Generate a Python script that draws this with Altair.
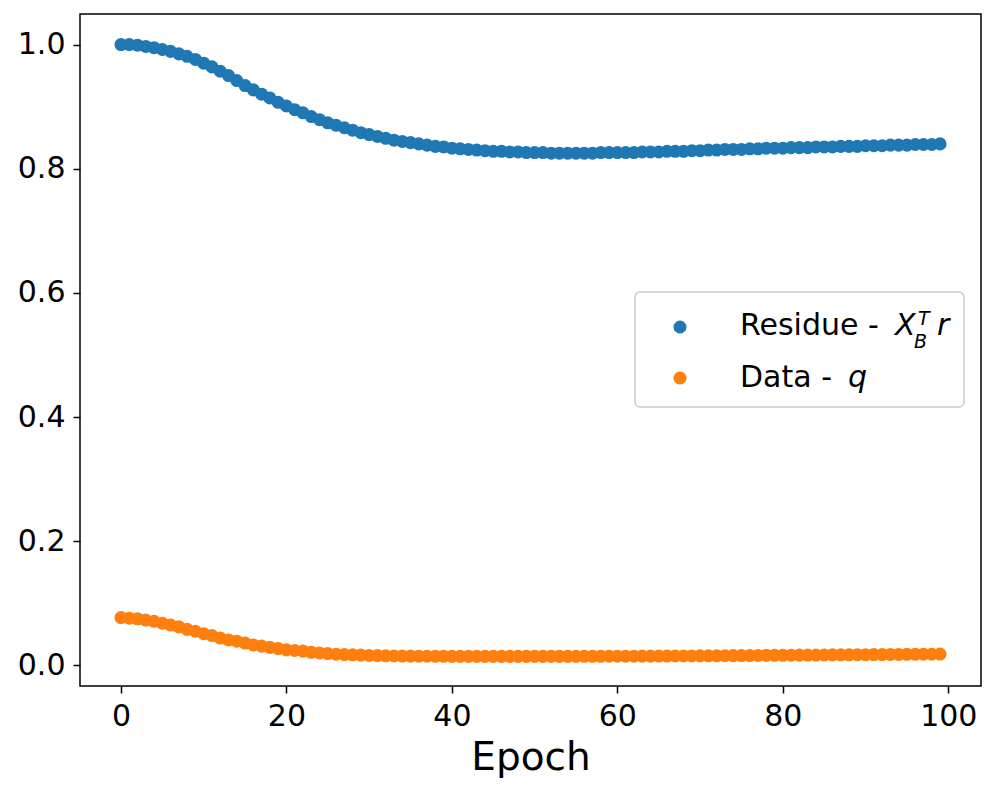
import altair as alt
import pandas as pd

epochs = list(range(100))

residue = [
    1.000, 1.000, 0.999, 0.997, 0.995, 0.992, 0.989, 0.985, 0.981, 0.976,
    0.970, 0.964, 0.957, 0.950, 0.942, 0.934, 0.927, 0.920, 0.914, 0.907,
    0.901, 0.895, 0.890, 0.884, 0.879, 0.874, 0.870, 0.866, 0.862, 0.858,
    0.855, 0.852, 0.849, 0.846, 0.844, 0.842, 0.840, 0.838, 0.836, 0.835,
    0.833, 0.832, 0.831, 0.830, 0.829, 0.828, 0.828, 0.827, 0.827, 0.826,
    0.826, 0.826, 0.825, 0.825, 0.825, 0.825, 0.825, 0.825, 0.826, 0.826,
    0.826, 0.826, 0.826, 0.827, 0.827, 0.827, 0.828, 0.828, 0.828, 0.829,
    0.829, 0.830, 0.830, 0.831, 0.831, 0.831, 0.832, 0.832, 0.833, 0.833,
    0.833, 0.834, 0.834, 0.834, 0.835, 0.835, 0.835, 0.836, 0.836, 0.836,
    0.837, 0.837, 0.837, 0.838, 0.838, 0.838, 0.839, 0.839, 0.839, 0.840,
]

data_q = [
    0.077, 0.076, 0.075, 0.073, 0.071, 0.068, 0.065, 0.062, 0.058, 0.055,
    0.051, 0.048, 0.044, 0.041, 0.039, 0.036, 0.033, 0.031, 0.029, 0.027,
    0.025, 0.024, 0.023, 0.021, 0.020, 0.019, 0.018, 0.0175, 0.017, 0.0165,
    0.016, 0.0157, 0.0154, 0.0152, 0.015, 0.0149, 0.0148, 0.0147, 0.0146, 0.0146,
    0.0145, 0.0145, 0.0145, 0.0145, 0.0145, 0.0145, 0.0145, 0.0145, 0.0145, 0.0145,
    0.0145, 0.0145, 0.0145, 0.0145, 0.0145, 0.0145, 0.0146, 0.0146, 0.0146, 0.0147,
    0.0147, 0.0148, 0.0148, 0.0149, 0.0149, 0.0150, 0.0150, 0.0151, 0.0152, 0.0152,
    0.0153, 0.0154, 0.0155, 0.0156, 0.0157, 0.0158, 0.0159, 0.0160, 0.0161, 0.0162,
    0.0163, 0.0164, 0.0165, 0.0166, 0.0167, 0.0168, 0.0169, 0.0170, 0.0171, 0.0172,
    0.0173, 0.0174, 0.0175, 0.0176, 0.0177, 0.0178, 0.0179, 0.0180, 0.0181, 0.0182,
]

series_names = ["Residue", "Data"]
series_colors = ["#1f77b4", "#ff7f0e"]
x_ticks = [0, 20, 40, 60, 80, 100]
y_ticks = [0.0, 0.2, 0.4, 0.6, 0.8, 1.0]

df = pd.DataFrame({
    "epoch": epochs * 2,
    "value": residue + data_q,
    "series": [series_names[0]] * len(epochs) + [series_names[1]] * len(epochs),
})

FONT = "DejaVu Sans"
W, H = 901, 672
DOT = 170

points = alt.Chart(df).mark_circle(size=DOT, opacity=1).encode(
    x=alt.X("epoch:Q",
            scale=alt.Scale(domain=[-4.95, 103.95], nice=False, zero=False),
            axis=alt.Axis(values=x_ticks, title="Epoch", format="d")),
    y=alt.Y("value:Q",
            scale=alt.Scale(domain=[-0.0332, 1.0492], nice=False, zero=False),
            axis=alt.Axis(values=y_ticks, title=None, format=".1f")),
    color=alt.Color("series:N",
                    scale=alt.Scale(domain=series_names, range=series_colors),
                    legend=None),
)

one = pd.DataFrame({"a": [0]})

legend_box = alt.Chart(one).mark_rect(
    fill="white", fillOpacity=0.8, stroke="#cccccc", strokeWidth=1.5, cornerRadius=5
).encode(x=alt.value(555), x2=alt.value(884), y=alt.value(278), y2=alt.value(393))

leg_dot1 = alt.Chart(one).mark_circle(size=DOT, opacity=1, color=series_colors[0]).encode(
    x=alt.value(600), y=alt.value(313))
leg_dot2 = alt.Chart(one).mark_circle(size=DOT, opacity=1, color=series_colors[1]).encode(
    x=alt.value(600), y=alt.value(364))

def txt(s, x, y, size=30, italic=False):
    kw = dict(align="left", baseline="alphabetic", fontSize=size, font=FONT, color="black")
    if italic:
        kw["fontStyle"] = "italic"
    return alt.Chart(one).mark_text(**kw).encode(
        x=alt.value(x), y=alt.value(y), text=alt.value(s))

legend_layers = [
    legend_box, leg_dot1, leg_dot2,
    txt("Residue - ", 660, 321),
    txt("X", 815, 321, italic=True),
    txt("T", 838, 311, size=19, italic=True),
    txt("B", 834, 334, size=19, italic=True),
    txt("r", 857, 321, italic=True),
    txt("Data - ", 660, 373),
    txt("q", 768, 373, italic=True),
]

chart = alt.layer(points, *legend_layers).properties(
    width=W, height=H,
    autosize=alt.AutoSizeParams(type="none"),
    padding={"left": 72, "top": 6, "right": 7, "bottom": 99},
    background="white",
).configure_view(
    stroke="black", strokeWidth=1.5
).configure_axis(
    grid=False,
    domain=False,
    ticks=True,
    tickColor="black",
    tickWidth=1.5,
    tickSize=7,
    labelFont=FONT,
    labelFontSize=30,
    labelColor="black",
    labelPadding=8,
    titleFont=FONT,
    titleFontSize=39,
    titleFontWeight="normal",
    titleColor="black",
    titlePadding=7,
)

chart.save("out.html", embed_options={"renderer": "svg", "actions": False})
